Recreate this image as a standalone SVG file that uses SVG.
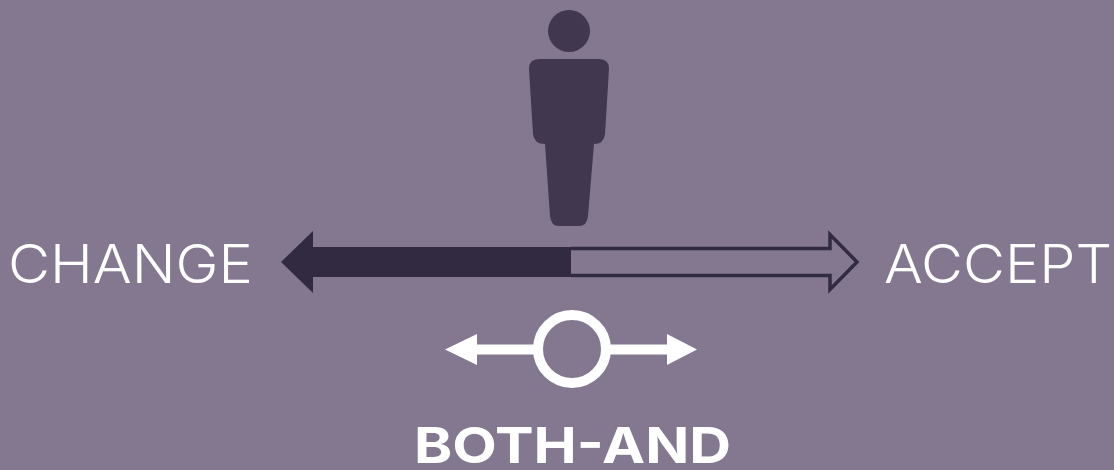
<svg xmlns="http://www.w3.org/2000/svg" width="1114" height="470" viewBox="0 0 1114 470">
<style>
.t{font-family:"Inter","Liberation Sans",sans-serif;fill:#fff}
.l{font-size:53px;font-weight:350}
.b{font-size:50px;font-weight:700}
.w{fill:#fff}
</style>
<rect width="1114" height="470" fill="#837890"/>
<g id="person" fill="#41374f">
<circle cx="569" cy="31" r="21"/>
<path d="M539 59H599Q609 59 609 69L605 134Q604 144 594 144L588 216Q587 226 579 226H559Q551 226 550 216L545 144Q534 144 533 134L529 69Q529 59 539 59Z"/>
</g>
<g id="connectors">
<path id="arrow-change" d="M281 262L313 231V247H571V277H313V293Z" fill="#322a40"/>
<path id="arrow-accept" d="M571 248.500H830V234.500L857 262L830 289.500V275.500H571" fill="none" stroke="#322a40" stroke-width="3.500"/>
<path id="arrow-both" class="w" d="M445 349.500L477 334V344.500H540V354.500H477V365ZM697 349.500L667 334V344.500H604V354.500H667V365Z"/>
</g>
<g id="slider">
<circle cx="572" cy="349" r="34" fill="#837890" stroke="#fff" stroke-width="10"/>
</g>
<g id="label-change"><text class="t l" x="8" y="283" textLength="245" lengthAdjust="spacingAndGlyphs">CHANGE</text></g>
<g id="label-accept"><text class="t l" x="884" y="283" textLength="228" lengthAdjust="spacingAndGlyphs">ACCEPT</text></g>
<g id="label-both"><text class="t b" x="414" y="463" textLength="317" lengthAdjust="spacingAndGlyphs">BOTH-AND</text></g>
</svg>
